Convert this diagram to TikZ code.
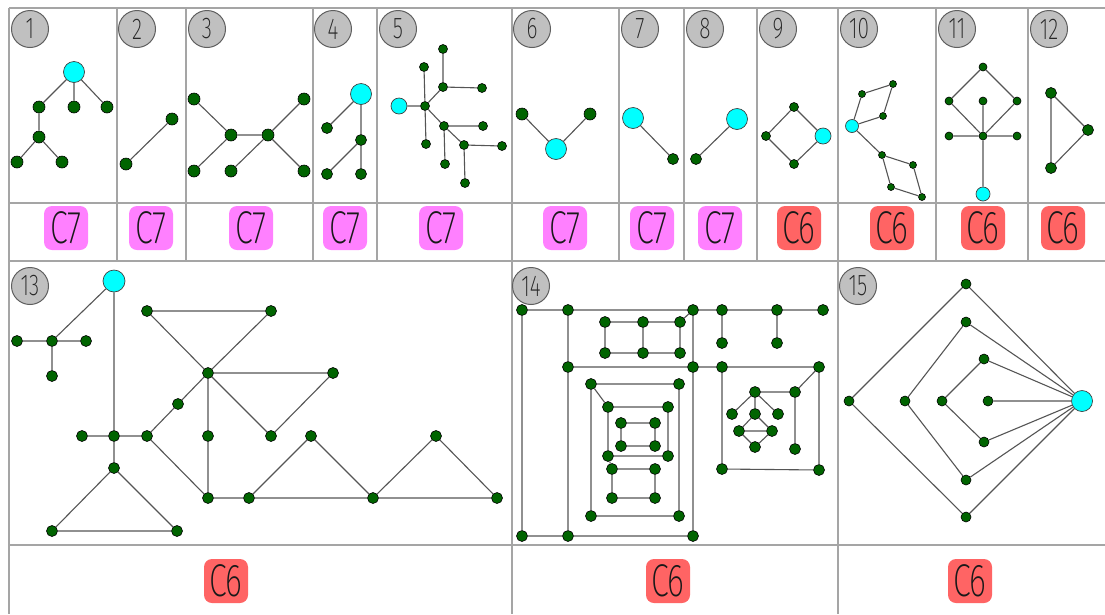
\documentclass[tikz,border=0pt]{standalone}
\usepackage{fontspec}
\newfontfamily\cadfont[FakeStretch=0.7]{Fira Sans ExtraLight}
\definecolor{dkg}{RGB}{0,100,0}
\definecolor{cyn}{RGB}{0,255,255}
\definecolor{pinkc}{RGB}{255,128,255}
\definecolor{redc}{RGB}{255,100,100}
\definecolor{gridc}{RGB}{165,165,165}
\definecolor{numfill}{RGB}{192,192,192}
\definecolor{numdraw}{RGB}{95,95,95}
\definecolor{edgec}{RGB}{85,85,85}
\begin{document}
\begin{tikzpicture}[x=1pt,y=-1pt,
 gn/.style={circle,fill=dkg,draw=black,line width=0.6pt,inner sep=0pt,minimum size=#1},
 gn/.default=11pt,
 cy/.style={circle,fill=cyn,draw=black!75,line width=0.7pt,inner sep=0pt,minimum size=#1},
 cy/.default=21pt,
 num/.style={circle,fill=numfill,draw=numdraw,line width=1pt,inner sep=0pt,minimum size=37pt,font=\cadfont\fontsize{30}{30}\selectfont,text=black!85},
 lbox/.style={rounded corners=8pt,minimum width=44pt,minimum height=44pt,inner sep=0pt,font=\cadfont\fontsize{46}{46}\selectfont,text=black!90},
 c7/.style={lbox,fill=pinkc},
 c6/.style={lbox,fill=redc},
 conn/.style={draw=edgec,line width=1.1pt},
 gridline/.style={draw=gridc,line width=1.3pt}]
\useasboundingbox (0,0) rectangle (1105,614);
\fill[white] (0,0) rectangle (1105,614);
% grid
\draw[gridline] (9,8) -- (1105,8) (9,203) -- (1105,203) (9,261) -- (1105,261) (9,545) -- (1105,545);
\draw[gridline] (9,8) -- (9,614);
\foreach \xx in {117,186,313,377,512,619,684,757,838,936,1028} {\draw[gridline] (\xx,8) -- (\xx,261);}
\draw[gridline] (512,261) -- (512,614) (838,261) -- (838,614);
% numbers
\node[num] (t1) at (30,29) {1};
\node[num] (t2) at (137,29) {2};
\node[num] (t3) at (207,29) {3};
\node[num] (t4) at (333,29) {4};
\node[num] (t5) at (398,29) {5};
\node[num] (t6) at (532,29) {6};
\node[num] (t7) at (640,29) {7};
\node[num] (t8) at (705,29) {8};
\node[num] (t9) at (778,29) {9};
\node[num] (t10) at (859,29) {10};
\node[num] (t11) at (957,29) {11};
\node[num] (t12) at (1049,29) {12};
\node[num] (t13) at (30,286) {13};
\node[num] (t14) at (531,286) {14};
\node[num] (t15) at (858,286) {15};
% labels
\node[c7] (q1) at (66,228) {C7};
\node[c7] (q2) at (151,228) {C7};
\node[c7] (q3) at (251,228) {C7};
\node[c7] (q4) at (345,228) {C7};
\node[c7] (q5) at (441,228) {C7};
\node[c7] (q6) at (565,228) {C7};
\node[c7] (q7) at (652,228) {C7};
\node[c7] (q8) at (720,228) {C7};
\node[c6] (q9) at (799,228) {C6};
\node[c6] (q10) at (892,228) {C6};
\node[c6] (q11) at (983,228) {C6};
\node[c6] (q12) at (1063,228) {C6};
\node[c6] (q13) at (226,581) {C6};
\node[c6] (q14) at (668,581) {C6};
\node[c6] (q15) at (970,581) {C6};
% panel 1
\node[cy] (a1) at (74,72) {};
\node[gn=12pt] (a2) at (39,107) {};
\node[gn=12pt] (a3) at (74,107) {};
\node[gn=12pt] (a4) at (107,107) {};
\node[gn=12pt] (a5) at (39,137) {};
\node[gn=12pt] (a6) at (17,162) {};
\node[gn=12pt] (a7) at (62,162) {};
\draw[conn] (a1)--(a2) (a1)--(a3) (a1)--(a4) (a2)--(a5) (a5)--(a6) (a5)--(a7);
% panel 2
\node[gn=12pt] (b1) at (172,119) {};
\node[gn=12pt] (b2) at (126,164) {};
\draw[conn] (b1)--(b2);
% panel 3
\node[gn=12pt] (c1) at (194,99) {};
\node[gn=12pt] (c2) at (304,99) {};
\node[gn=12pt] (c3) at (231,135) {};
\node[gn=12pt] (c4) at (268,135) {};
\node[gn=12pt] (c5) at (194,171) {};
\node[gn=12pt] (c6) at (231,171) {};
\node[gn=12pt] (c7) at (304,171) {};
\draw[conn] (c1)--(c3) (c3)--(c4) (c4)--(c2) (c3)--(c5) (c4)--(c6) (c4)--(c7);
% panel 4
\node[cy] (d1) at (361,94) {};
\node[gn] (d2) at (327,128) {};
\node[gn] (d3) at (361,140) {};
\node[gn] (d4) at (327,174) {};
\node[gn] (d5) at (361,174) {};
\draw[conn] (d1)--(d2) (d1)--(d3) (d3)--(d4) (d3)--(d5);
% panel 5
\node[cy=16pt] (e0) at (399,106) {};
\node[gn=9pt] (e1) at (425,106) {};
\node[gn=9pt] (e2) at (424,67) {};
\node[gn=9pt] (e3) at (443,49) {};
\node[gn=9pt] (e4) at (443,87) {};
\node[gn=9pt] (e5) at (482,88) {};
\node[gn=9pt] (e6) at (426,144) {};
\node[gn=9pt] (e7) at (444,126) {};
\node[gn=9pt] (e8) at (483,126) {};
\node[gn=9pt] (e9) at (445,164) {};
\node[gn=9pt] (e10) at (464,145) {};
\node[gn=9pt] (e11) at (502,146) {};
\node[gn=9pt] (e12) at (465,183) {};
\draw[conn] (e0)--(e1) (e1)--(e2) (e1)--(e6) (e1)--(e4) (e4)--(e3) (e4)--(e5) (e1)--(e7) (e7)--(e8) (e7)--(e9) (e7)--(e10) (e10)--(e11) (e10)--(e12);
% panel 6
\node[gn=12pt] (f1) at (522,114) {};
\node[gn=12pt] (f2) at (590,114) {};
\node[cy] (f0) at (556,149) {};
\draw[conn] (f1)--(f0) (f2)--(f0);
% panel 7
\node[cy] (g0) at (633,118) {};
\node[gn] (g1) at (673,159) {};
\draw[conn] (g0)--(g1);
% panel 8
\node[cy] (h0) at (737,119) {};
\node[gn] (h1) at (696,159) {};
\draw[conn] (h0)--(h1);
% panel 9
\node[gn=9pt] (i1) at (794,107) {};
\node[gn=9pt] (i2) at (766,136) {};
\node[cy=16pt] (i0) at (823,136) {};
\node[gn=9pt] (i3) at (794,164) {};
\draw[conn] (i1)--(i2) (i2)--(i3) (i3)--(i0) (i0)--(i1);
% panel 10
\node[cy=13pt] (j0) at (852,126) {};
\node[gn=7pt] (j1) at (862,94) {};
\node[gn=7pt] (j2) at (893,84) {};
\node[gn=7pt] (j3) at (883,116) {};
\node[gn=7pt] (j4) at (882,155) {};
\node[gn=7pt] (j5) at (913,165) {};
\node[gn=7pt] (j6) at (891,187) {};
\node[gn=7pt] (j7) at (922,197) {};
\draw[conn] (j0)--(j1) (j1)--(j2) (j2)--(j3) (j3)--(j0) (j0)--(j4) (j4)--(j5) (j5)--(j7) (j7)--(j6) (j6)--(j4);
% panel 11
\node[gn=8pt] (k1) at (983,67) {};
\node[gn=8pt] (k2) at (949,101) {};
\node[gn=8pt] (k3) at (1017,101) {};
\node[gn=8pt] (k4) at (983,101) {};
\node[gn=8pt] (k5) at (983,136) {};
\node[gn=8pt] (k6) at (949,136) {};
\node[gn=8pt] (k7) at (1017,136) {};
\node[cy=14pt] (k0) at (983,194) {};
\draw[conn] (k1)--(k2) (k1)--(k3) (k2)--(k5) (k3)--(k5) (k4)--(k5) (k6)--(k5) (k5)--(k7) (k5)--(k0);
% panel 12
\node[gn] (l1) at (1051,93) {};
\node[gn] (l2) at (1088,130) {};
\node[gn] (l3) at (1051,168) {};
\draw[conn] (l1)--(l2) (l2)--(l3) (l3)--(l1);
% panel 13
\node[cy=22pt] (m0) at (114,281) {};
\node[gn] (m1) at (52,341) {};
\node[gn] (m2) at (17,341) {};
\node[gn] (m3) at (86,341) {};
\node[gn] (m4) at (52,376) {};
\node[gn] (m5) at (114,436) {};
\node[gn] (m6) at (82,436) {};
\node[gn] (m7) at (147,436) {};
\node[gn] (m8) at (114,468) {};
\node[gn] (m9) at (52,531) {};
\node[gn] (m10) at (177,531) {};
\node[gn] (m11) at (147,311) {};
\node[gn] (m12) at (208,373) {};
\node[gn] (m13) at (178,404) {};
\node[gn] (m14) at (208,436) {};
\node[gn] (m15) at (208,498) {};
\node[gn] (m16) at (249,498) {};
\node[gn] (m17) at (271,311) {};
\node[gn] (m18) at (333,373) {};
\node[gn] (m19) at (271,436) {};
\node[gn] (m20) at (311,436) {};
\node[gn] (m21) at (373,498) {};
\node[gn] (m22) at (436,436) {};
\node[gn] (m23) at (497,498) {};
\draw[conn] (m0)--(m1) (m2)--(m1) (m1)--(m3) (m1)--(m4)
 (m0)--(m5) (m6)--(m5) (m5)--(m7) (m5)--(m8) (m8)--(m9) (m8)--(m10) (m9)--(m10)
 (m7)--(m13) (m13)--(m12) (m7)--(m15)
 (m11)--(m17) (m11)--(m12) (m12)--(m17)
 (m12)--(m18) (m12)--(m19) (m19)--(m18)
 (m12)--(m14) (m14)--(m15)
 (m15)--(m16) (m16)--(m21) (m21)--(m23)
 (m16)--(m20) (m20)--(m21) (m21)--(m22) (m22)--(m23);
% panel 14
\node[gn] (n1) at (522,310) {};
\node[gn] (n2) at (568,310) {};
\node[gn] (n3) at (693,310) {};
\node[gn] (n4) at (722,310) {};
\node[gn] (n5) at (777,310) {};
\node[gn] (n6) at (823,310) {};
\node[gn] (n7) at (722,343) {};
\node[gn] (n8) at (777,343) {};
\node[gn] (n9) at (605,322) {};
\node[gn] (n10) at (643,322) {};
\node[gn] (n11) at (680,322) {};
\node[gn] (n12) at (605,353) {};
\node[gn] (n13) at (643,353) {};
\node[gn] (n14) at (680,353) {};
\node[gn] (n15) at (568,367) {};
\node[gn] (n16) at (693,367) {};
\node[gn] (n17) at (722,367) {};
\node[gn] (n18) at (819,367) {};
\node[gn] (n19) at (522,536) {};
\node[gn] (n20) at (568,536) {};
\node[gn] (n21) at (693,536) {};
\node[gn] (n22) at (591,384) {};
\node[gn] (n23) at (679,384) {};
\node[gn] (n24) at (608,407) {};
\node[gn] (n25) at (668,407) {};
\node[gn] (n26) at (621,423) {};
\node[gn] (n27) at (655,423) {};
\node[gn] (n28) at (621,446) {};
\node[gn] (n29) at (655,446) {};
\node[gn] (n30) at (608,456) {};
\node[gn] (n31) at (668,456) {};
\node[gn] (n32) at (612,469) {};
\node[gn] (n33) at (655,469) {};
\node[gn] (n34) at (612,498) {};
\node[gn] (n35) at (655,498) {};
\node[gn] (n36) at (591,516) {};
\node[gn] (n37) at (679,516) {};
\node[gn] (n38) at (755,392) {};
\node[gn] (n39) at (795,392) {};
\node[gn] (n40) at (732,414) {};
\node[gn] (n41) at (755,414) {};
\node[gn] (n42) at (778,414) {};
\node[gn] (n43) at (739,431) {};
\node[gn] (n44) at (772,431) {};
\node[gn] (n45) at (755,447) {};
\node[gn] (n46) at (795,449) {};
\node[gn] (n47) at (722,469) {};
\node[gn] (n48) at (819,470) {};
\draw[conn] (n1)--(n2) (n2)--(n3) (n3)--(n4) (n4)--(n5) (n5)--(n6)
 (n1)--(n19) (n19)--(n20) (n20)--(n21) (n2)--(n15) (n15)--(n20) (n3)--(n16) (n16)--(n21)
 (n15)--(n16) (n16)--(n17) (n17)--(n18) (n4)--(n7) (n5)--(n8) (n11)--(n3)
 (n9)--(n10) (n10)--(n11) (n12)--(n13) (n13)--(n14) (n9)--(n12) (n10)--(n13) (n11)--(n14)
 (n22)--(n23) (n22)--(n36) (n23)--(n37) (n36)--(n37) (n22)--(n24) (n24)--(n25) (n24)--(n30) (n25)--(n31) (n30)--(n31)
 (n26)--(n27) (n28)--(n29) (n26)--(n28) (n27)--(n29)
 (n30)--(n32) (n32)--(n33) (n32)--(n34) (n33)--(n35) (n34)--(n35)
 (n17)--(n47) (n47)--(n48) (n18)--(n48) (n18)--(n39) (n39)--(n38) (n39)--(n46)
 (n38)--(n40) (n38)--(n41) (n38)--(n42) (n41)--(n43) (n41)--(n44) (n43)--(n44) (n43)--(n45) (n44)--(n45);
% panel 15
\node[gn=10pt] (o1) at (966,284) {};
\node[gn=10pt] (o2) at (966,322) {};
\node[gn=10pt] (o3) at (984,359) {};
\node[gn=10pt] (o4) at (849,401) {};
\node[gn=10pt] (o5) at (905,401) {};
\node[gn=10pt] (o6) at (942,401) {};
\node[gn=10pt] (o7) at (988,401) {};
\node[cy] (o0) at (1082,401) {};
\node[gn=10pt] (o8) at (984,442) {};
\node[gn=10pt] (o9) at (966,480) {};
\node[gn=10pt] (o10) at (966,517) {};
\draw[conn] (o4)--(o1) (o4)--(o10) (o5)--(o2) (o5)--(o9) (o6)--(o3) (o6)--(o8) (o7)--(o0)
 (o0)--(o1) (o0)--(o2) (o0)--(o3) (o0)--(o8) (o0)--(o9) (o0)--(o10);
\end{tikzpicture}
\end{document}
